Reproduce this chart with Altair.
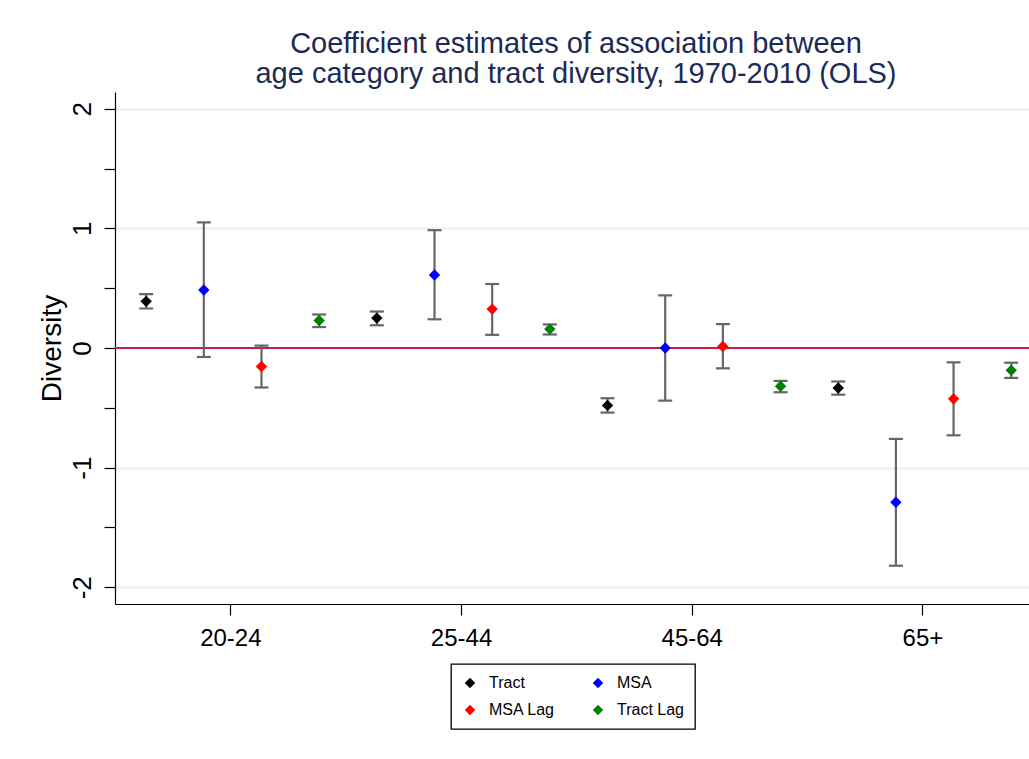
import json
import altair as alt
import pandas as pd

# Age categories on the x axis and the four model specifications
categories = ["20-24", "25-44", "45-64", "65+"]
series = ["Tract", "MSA", "MSA Lag", "Tract Lag"]
series_colors = ["#000000", "#0000ff", "#ff0000", "#008000"]
# horizontal dodge of each specification within a category
series_offsets = [-0.365, -0.115, 0.135, 0.385]

# Coefficient estimates and 95% confidence bounds, one list per specification
tract = [0.39, 0.25, -0.48, -0.335]
tract_lo = [0.33, 0.19, -0.54, -0.39]
tract_hi = [0.45, 0.305, -0.42, -0.28]

msa = [0.485, 0.61, 0.00, -1.29]
msa_lo = [-0.075, 0.24, -0.44, -1.82]
msa_hi = [1.05, 0.985, 0.44, -0.76]

msa_lag = [-0.155, 0.325, 0.013, -0.425]
msa_lag_lo = [-0.33, 0.11, -0.17, -0.73]
msa_lag_hi = [0.02, 0.535, 0.20, -0.12]

tract_lag = [0.23, 0.158, -0.32, -0.187]
tract_lag_lo = [0.175, 0.113, -0.37, -0.25]
tract_lag_hi = [0.28, 0.197, -0.275, -0.123]

estimates = {
    "Tract": (tract, tract_lo, tract_hi),
    "MSA": (msa, msa_lo, msa_hi),
    "MSA Lag": (msa_lag, msa_lag_lo, msa_lag_hi),
    "Tract Lag": (tract_lag, tract_lag_lo, tract_lag_hi),
}

rows = []
for s_i, s in enumerate(series):
    est, lo, hi = estimates[s]
    for c_i, c in enumerate(categories):
        rows.append({
            "series": s,
            "category": c,
            "pos": c_i + 1 + series_offsets[s_i],
            "est": est[c_i],
            "lo": lo[c_i],
            "hi": hi[c_i],
        })
df = pd.DataFrame(rows)

FONT = "Liberation Sans, Arial, Helvetica, sans-serif"
BAR_GREY = "#666666"

x_scale = alt.Scale(domain=[0.5, 4.462], nice=False, zero=False)
y_scale = alt.Scale(domain=[-2.14, 2.14], nice=False, zero=False)

cat_expr = json.dumps(categories) + "[datum.value - 1]"
x_axis = alt.Axis(
    values=[1, 2, 3, 4],
    labelExpr=cat_expr,
    grid=False,
    tickSize=11,
    tickColor="#000000",
    tickWidth=1.2,
    domainColor="#000000",
    domainWidth=1.2,
    labelFont=FONT,
    labelFontSize=24,
    labelColor="#000000",
    labelPadding=11,
    labelBaseline="top",
    title="",
)

y_axis = alt.Axis(
    values=[-2, -1.5, -1, -0.5, 0, 0.5, 1, 1.5, 2],
    labelExpr="datum.value % 1 === 0 ? toString(datum.value) : ''",
    labelAngle=270,
    labelAlign="center",
    labelBaseline="alphabetic",
    labelPadding=14,
    labelFont=FONT,
    labelFontSize=26,
    labelColor="#000000",
    labelOverlap=False,
    tickSize=11,
    tickColor="#000000",
    tickWidth=1.2,
    domainColor="#000000",
    domainWidth=1.2,
    grid=True,
    gridColor="#e8f0f2",
    gridWidth=2,
    gridOpacity={"condition": {"test": "datum.value % 1 !== 0", "value": 0}, "value": 1},
    title="Diversity",
    titleFont=FONT,
    titleFontSize=28,
    titleFontWeight="normal",
    titleColor="#000000",
    titleAngle=270,
    titleAlign="center",
    titleBaseline="alphabetic",
    titleX=-55,
    titleY=256,
)

x_enc = alt.X("pos:Q", scale=x_scale, axis=x_axis)

zero_line = alt.Chart(pd.DataFrame({"est": [0.0]})).mark_rule(
    color="#c41e45", strokeWidth=2
).encode(y=alt.Y("est:Q", scale=y_scale, axis=y_axis))

base = alt.Chart(df)

stems = base.mark_rule(color=BAR_GREY, strokeWidth=2.2).encode(
    x=x_enc,
    y=alt.Y("lo:Q", scale=y_scale, axis=y_axis),
    y2="hi:Q",
)

caps_lo = base.mark_tick(orient="horizontal", size=14, thickness=2.2, color=BAR_GREY, opacity=1).encode(
    x=x_enc,
    y=alt.Y("lo:Q", scale=y_scale, axis=y_axis),
)
caps_hi = base.mark_tick(orient="horizontal", size=14, thickness=2.2, color=BAR_GREY, opacity=1).encode(
    x=x_enc,
    y=alt.Y("hi:Q", scale=y_scale, axis=y_axis),
)

points = base.mark_point(shape="diamond", filled=True, size=130, opacity=1).encode(
    x=x_enc,
    y=alt.Y("est:Q", scale=y_scale, axis=y_axis),
    color=alt.Color(
        "series:N",
        scale=alt.Scale(domain=series, range=series_colors),
        legend=alt.Legend(
            title=None,
            orient="none",
            legendX=336,
            legendY=572,
            direction="horizontal",
            columns=2,
            symbolType="diamond",
            symbolSize=110,
            symbolStrokeWidth=0,
            symbolOpacity=1,
            labelFont=FONT,
            labelFontSize=16,
            labelColor="#000000",
            labelOffset=11,
            columnPadding=35,
            rowPadding=11,
            padding=11,
            strokeColor="#000000",
        ),
    ),
)

chart = alt.layer(zero_line, stems, caps_lo, caps_hi, points).properties(
    width=914,
    height=512,
    padding={"left": 115, "top": 92, "right": 0, "bottom": 150},
    autosize=alt.AutoSizeParams(type="none"),
    background="#ffffff",
    title=alt.TitleParams(
        text=[
            "Coefficient estimates of association between",
            "age category and tract diversity, 1970-2010 (OLS)",
        ],
        font=FONT,
        fontSize=29,
        fontWeight="normal",
        color="#1c2b55",
        anchor="middle",
        lineHeight=30,
        baseline="bottom",
        offset=2,
        dx=4,
        dy=28,
    ),
).configure_view(strokeWidth=0).configure_legend(strokeWidth=1.3)

chart.save("out.html", embed_options={"renderer": "svg", "actions": False})
